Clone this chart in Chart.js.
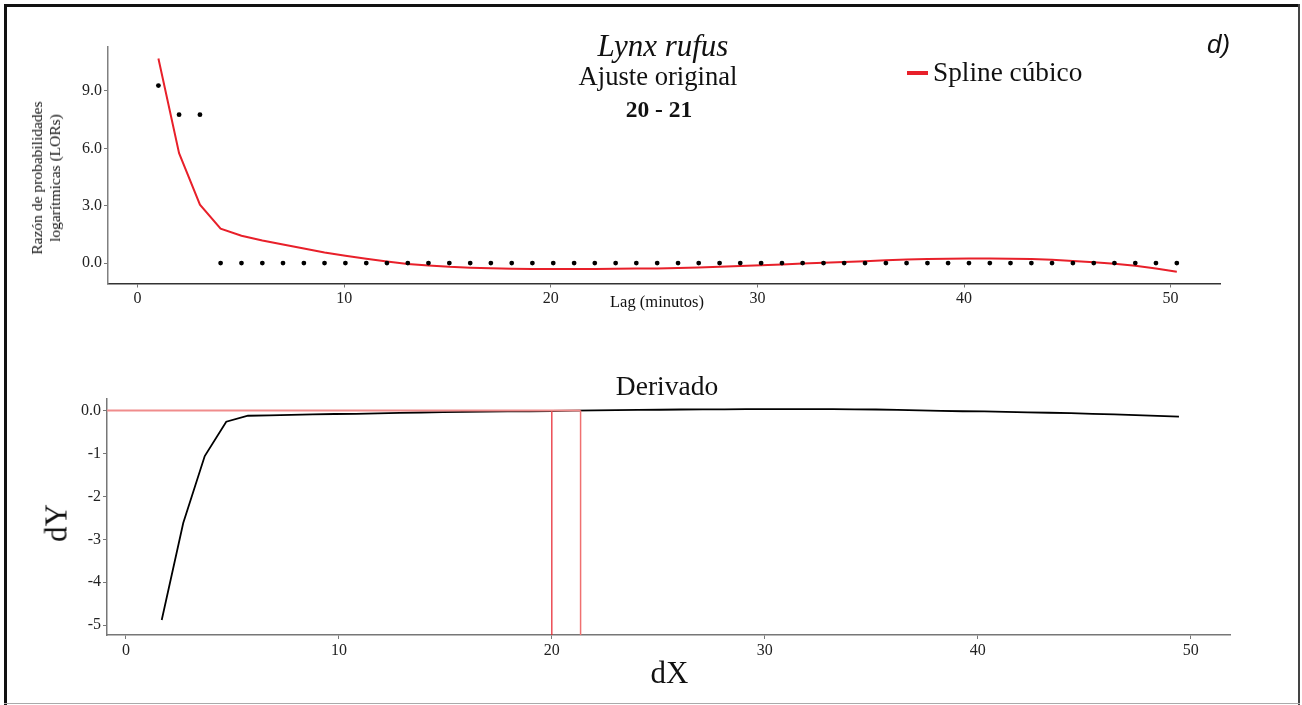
<!DOCTYPE html>
<html>
<head>
<meta charset="utf-8">
<script src="https://cdn.jsdelivr.net/npm/chart.js@4.4.0/dist/chart.umd.min.js"></script>
<style>
  html, body { margin:0; padding:0; background:#fff; }
  #page { position:relative; width:1302px; height:705px; overflow:hidden;
          font-family:"Liberation Serif","Times New Roman",serif; color:#111; }
  canvas { position:absolute; left:0; }
  .txt { position:absolute; white-space:nowrap; line-height:1; }
  .c { transform:translateX(-50%); }
  .rot { transform:translate(-50%,-50%) rotate(-90deg); text-align:center; }
  .frame { position:absolute; }
</style>
</head>
<body>
<div id="page">
  <div class="frame" style="left:4px;top:4px;width:1296px;height:3px;background:#111"></div>
  <div class="frame" style="left:4px;top:4px;width:3px;height:701px;background:#111"></div>
  <div class="frame" style="left:1298px;top:4px;width:2px;height:701px;background:#444"></div>
  <div class="frame" style="left:4px;top:703px;width:1296px;height:1px;background:#aaa"></div>

  <canvas id="top" width="1302" height="345" style="top:0"></canvas>
  <canvas id="bottom" width="1302" height="360" style="top:345px"></canvas>

  <div class="txt c" style="left:663px;top:30px;font-size:31px;font-style:italic">Lynx rufus</div>
  <div class="txt c" style="left:658px;top:62.5px;font-size:26.6px">Ajuste original</div>
  <div class="txt c" style="left:659px;top:97.5px;font-size:23.5px;font-weight:bold">20 - 21</div>
  <div class="frame" style="left:906.5px;top:70.5px;width:21px;height:4px;background:#e8202a"></div>
  <div class="txt" style="left:933px;top:58.5px;font-size:27.3px">Spline cúbico</div>
  <div class="txt" style="left:1207px;top:31px;font-size:26px;font-style:italic;font-family:'Liberation Sans',Arial,sans-serif">d)</div>
  <div class="txt c" style="left:657px;top:293.5px;font-size:16.5px">Lag (minutos)</div>
  <div class="txt rot" style="left:46.2px;top:177.5px;font-size:15.5px;line-height:18px">Razón de probabilidades<br>logarítmicas (LORs)</div>

  <div class="txt c" style="left:667px;top:372px;font-size:27.5px">Derivado</div>
  <div class="txt rot" style="left:56.2px;top:522.5px;font-size:31px">dY</div>
  <div class="txt c" style="left:669.5px;top:657.3px;font-size:31px">dX</div>
</div>

<script>
// upper panel: observed LORs and fitted cubic spline
const lags = [1.01, 2.01, 3.02, 4.02, 5.03, 6.04, 7.04, 8.05, 9.05, 10.06,
  11.07, 12.07, 13.08, 14.08, 15.09, 16.1, 17.1, 18.11, 19.11, 20.12,
  21.13, 22.13, 23.14, 24.14, 25.15, 26.16, 27.16, 28.17, 29.17, 30.18,
  31.19, 32.19, 33.2, 34.2, 35.21, 36.22, 37.22, 38.23, 39.23, 40.24,
  41.25, 42.25, 43.26, 44.26, 45.27, 46.28, 47.28, 48.29, 49.29, 50.3];
const lorObserved = [9.28, 7.76, 7.76, 0, 0, 0, 0, 0, 0, 0,
  0, 0, 0, 0, 0, 0, 0, 0, 0, 0,
  0, 0, 0, 0, 0, 0, 0, 0, 0, 0,
  0, 0, 0, 0, 0, 0, 0, 0, 0, 0,
  0, 0, 0, 0, 0, 0, 0, 0, 0, 0];
const lorSpline = [10.7, 5.75, 3.05, 1.8, 1.43, 1.18, 0.97, 0.76, 0.55, 0.38,
  0.22, 0.08, -0.05, -0.13, -0.2, -0.24, -0.27, -0.3, -0.31, -0.31,
  -0.31, -0.31, -0.3, -0.29, -0.28, -0.26, -0.23, -0.2, -0.16, -0.12,
  -0.08, -0.03, 0.02, 0.06, 0.1, 0.14, 0.18, 0.21, 0.23, 0.24,
  0.24, 0.23, 0.21, 0.17, 0.11, 0.04, -0.04, -0.14, -0.28, -0.45];
const lagTicks = [0, 10, 20, 30, 40, 50];
const lorTicks = [0, 3, 6, 9];

// lower panel: derivative of the spline
const dX = [1.68, 2.69, 3.7, 4.71, 5.73, 6.74, 7.76, 8.78, 9.8, 10.81,
  11.83, 12.85, 13.86, 14.88, 15.9, 16.92, 17.93, 18.95, 19.97, 20.98,
  22.0, 23.02, 24.03, 25.05, 26.07, 27.08, 28.1, 29.12, 30.14, 31.15,
  32.17, 33.19, 34.2, 35.22, 36.24, 37.25, 38.27, 39.29, 40.31, 41.32,
  42.34, 43.36, 44.37, 45.39, 46.41, 47.42, 48.44, 49.45];
const dY = [-4.88, -2.62, -1.06, -0.26, -0.12, -0.11, -0.1, -0.09, -0.08, -0.075,
  -0.065, -0.055, -0.045, -0.035, -0.03, -0.025, -0.02, -0.015, -0.01, 0,
  0.005, 0.01, 0.015, 0.02, 0.025, 0.03, 0.03, 0.035, 0.035, 0.035,
  0.035, 0.035, 0.03, 0.025, 0.015, 0.005, -0.005, -0.015, -0.02, -0.03,
  -0.04, -0.05, -0.06, -0.075, -0.09, -0.105, -0.125, -0.14];
const dxTicks = [0, 10, 20, 30, 40, 50];
const dyTicks = [0, -1, -2, -3, -4, -5];
const dyTickLabels = ['0.0', '-1', '-2', '-3', '-4', '-5'];
const cutX = [20, 21.35];   // the "20 - 21" interval

const tickFont = { family: 'Liberation Serif', size: 16 };
const pts = (xs, ys) => xs.map((x, i) => ({ x: x, y: ys[i] }));

function axis(min, max, ticks, lineColor, fit, fmt) {
  return {
    type: 'linear', min: min, max: max,
    afterBuildTicks: s => { s.ticks = ticks.map(v => ({ value: v })); },
    afterFit: fit,
    border: { color: lineColor, width: 1.5 },
    grid: { drawOnChartArea: false, drawTicks: true, tickLength: 4, color: '#777', lineWidth: 1 },
    ticks: { font: tickFont, color: '#222', padding: 2, maxRotation: 0, callback: fmt }
  };
}

const common = {
  responsive: false, animation: false, devicePixelRatio: 1,
  plugins: { legend: { display: false }, tooltip: { enabled: false } },
  events: []
};

// top: chart area 108..1220 x 47..283.5
const topX = [-1.43, 52.39], topY = [-1.07, 11.3];
new Chart(document.getElementById('top'), {
  type: 'scatter',
  data: {
    datasets: [
      { data: pts(lags, lorSpline), showLine: true, borderColor: '#e8202a', borderWidth: 2,
        pointRadius: 0, tension: 0, order: 2 },
      { data: pts(lags, lorObserved), pointRadius: 2.4, pointBackgroundColor: '#000',
        pointBorderWidth: 0, order: 1 }
    ]
  },
  options: Object.assign({}, common, {
    layout: { padding: { left: 48, top: 47, right: 82, bottom: 31.5 } },
    scales: {
      x: axis(topX[0], topX[1], lagTicks, '#333', s => { s.height = 30; }, v => String(v)),
      y: axis(topY[0], topY[1], lorTicks, '#808080', s => { s.width = 60; }, v => v.toFixed(1))
    }
  })
});

// bottom: chart area 107..1230.7 x 399..635 (canvas offset 345)
const botX = [-0.89, 51.88], botY = [-5.23, 0.27];
new Chart(document.getElementById('bottom'), {
  type: 'scatter',
  data: {
    datasets: [
      { data: [{ x: botX[0], y: 0 }, { x: cutX[1], y: 0 }], showLine: true,
        borderColor: '#f08c8c', borderWidth: 2, pointRadius: 0 },
      { data: [{ x: cutX[0], y: 0 }, { x: cutX[0], y: botY[0] }], showLine: true,
        borderColor: '#e8202a', borderWidth: 1.2, pointRadius: 0 },
      { data: [{ x: cutX[1], y: 0 }, { x: cutX[1], y: botY[0] }], showLine: true,
        borderColor: '#f07070', borderWidth: 1.5, pointRadius: 0 },
      { data: pts(dX, dY), showLine: true, borderColor: '#000', borderWidth: 1.8,
        pointRadius: 0, tension: 0 }
    ]
  },
  options: Object.assign({}, common, {
    layout: { padding: { left: 47, top: 54, right: 71.3, bottom: 40 } },
    scales: {
      x: axis(botX[0], botX[1], dxTicks, '#777', s => { s.height = 30; }, v => String(v)),
      y: axis(botY[0], botY[1], dyTicks, '#777', s => { s.width = 60; },
              v => dyTickLabels[dyTicks.indexOf(v)])
    }
  })
});
</script>
</body>
</html>
